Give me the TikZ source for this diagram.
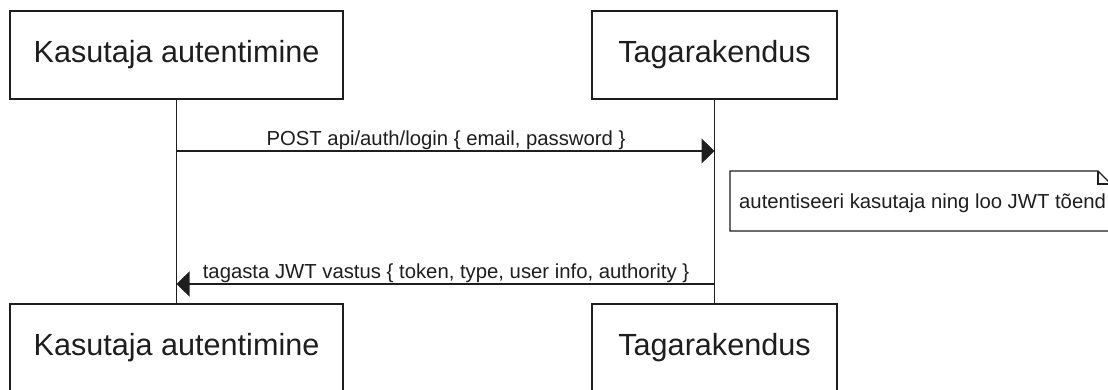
\documentclass[tikz,border=0pt]{standalone}
\usepackage{fontspec}
\setmainfont{Liberation Sans}
\usetikzlibrary{arrows.meta}
\definecolor{ink}{HTML}{1E1E1E}
\tikzset{
  actorbox/.style={draw=ink, line width=1.2pt, fill=white, inner sep=0pt,
    minimum height=88pt, font=\fontsize{30.6}{36}\selectfont, text=ink},
  lifeline/.style={draw=ink, line width=1.2pt},
  msg/.style={draw=ink, line width=1.2pt, -{Triangle[length=13pt,width=25pt]}},
  msglabel/.style={font=\fontsize{20.3}{24}\selectfont, text=ink, anchor=base, inner sep=0pt},
  notebox/.style={draw=ink, line width=1.2pt, fill=white}
}
\begin{document}
\begin{tikzpicture}[x=1pt,y=-1pt]
\useasboundingbox (0,0) rectangle (1108,389);
\clip (0,0) rectangle (1108,389);
\fill[white] (0,0) rectangle (1108,389);

% participants, head and foot
\node[actorbox, minimum width=333pt] (ua) at (176.5,55) {Kasutaja autentimine};
\node[actorbox, minimum width=245pt] (ta) at (714.5,55) {Tagarakendus};
\node[actorbox, minimum width=333pt] (ub) at (176.5,348) {Kasutaja autentimine};
\node[actorbox, minimum width=245pt] (tb) at (714.5,348) {Tagarakendus};

% lifelines
\draw[lifeline] (ua.south) -- (ub.north);
\draw[lifeline] (ta.south) -- (tb.north);

% message anchors on the lifelines
\coordinate (m1a) at (ua.south |- 0,151);
\coordinate (m1b) at (ta.south |- 0,151);
\coordinate (m2a) at (ua.south |- 0,284);
\coordinate (m2b) at (ta.south |- 0,284);

% login request
\draw[msg] (m1a) -- (m1b);
\node[msglabel] (l1) at (446,145) {POST api/auth/login \{ email, password \}};

% note beside the backend lifeline
\coordinate (nA) at (730,171);
\coordinate (nB) at (1098,171);
\coordinate (nC) at (1111,184);
\coordinate (nD) at (1111,231);
\coordinate (nE) at (730,231);
\draw[notebox] (nA) -- (nB) -- (nC) -- (nD) -- (nE) -- cycle;
\draw[draw=ink, line width=1.2pt] (nB) -- (nB |- nC) -- (nC);
\node[msglabel, anchor=base west] (nt) at (739,208) {autentiseeri kasutaja ning loo JWT tõend};

% token response
\draw[msg] (m2b) -- (m2a);
\node[msglabel] (l2) at (446,278) {tagasta JWT vastus \{ token, type, user info, authority \}};
\end{tikzpicture}
\end{document}
